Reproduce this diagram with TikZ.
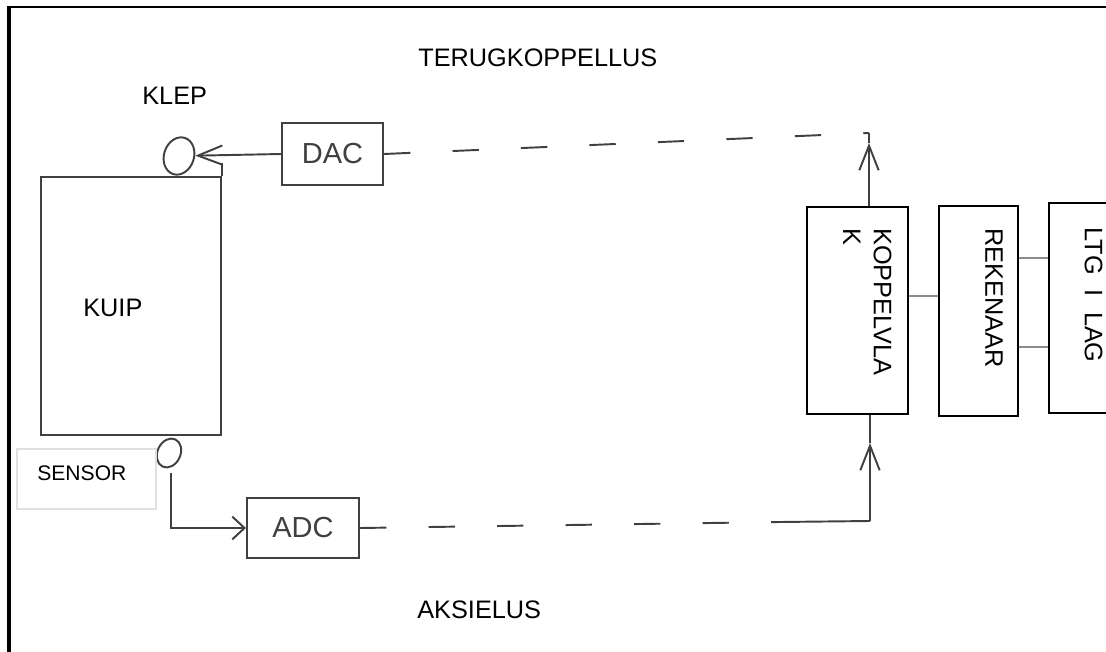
\documentclass[tikz,border=0pt]{standalone}
\usepackage{fontspec}
\setmainfont{Liberation Sans}
\usetikzlibrary{shapes.geometric, arrows.meta, positioning}
\tikzset{
    handbox/.style={rectangle, draw=black!75, line width=1.2pt, inner sep=0pt, font=\fontsize{16.5}{19}\selectfont, text=black!75},
    typedbox/.style={rectangle, draw=black, line width=0.6pt, inner sep=0pt},
    valve/.style={ellipse, draw=black!75, line width=1.1pt, inner sep=0pt},
    handline/.style={draw=black!75, line width=1.1pt},
    loopdash/.style={handline, dash pattern=on 15pt off 24pt},
    handarrow/.style={handline, -{Straight Barb[length=14pt, width=11pt]}},
    linkline/.style={draw=black!45, line width=0.8pt},
    lbl/.style={font=\fontsize{14.4}{17.6}\selectfont, inner sep=0pt, anchor=base west},
    vlbl/.style={font=\fontsize{14.4}{17.6}\selectfont, inner sep=0pt, rotate=-90, align=left, anchor=north west},
    sensorbox/.style={rectangle, draw=black!12, fill=white, line width=0.6pt, minimum width=2.78cm, minimum height=1.2cm},
}
\begin{document}
\begin{tikzpicture}[x=0.02cm, y=-0.02cm]
    \clip (0,0) rectangle (1106,652);
    \fill[white] (0,0) rectangle (1106,652);
    % frame
    \draw[line width=2.1pt] (9,652) -- (9,6);
    \draw[line width=1.3pt] (7,7) -- (1106,7);

    % tank with valve and sensor
    \node[handbox, minimum width=3.6cm, minimum height=5.16cm] (kuip) at (131,306) {};
    \draw[handline] (kuip.north east) -- ++(0,-13);
    \node[valve, minimum width=0.6cm, minimum height=0.76cm, rotate=-18] (klep) at (179,156) {};
    \node[valve, minimum width=0.46cm, minimum height=0.6cm, rotate=-25] (sensor) at (169,453) {};
    \node[sensorbox] (sensorlbl) at (86.5,479) {};
    \node[lbl, font=\fontsize{12}{14}\selectfont] (sensortxt) at (37,480) {SENSOR};

    % converters
    \node[handbox, minimum width=2.02cm, minimum height=1.24cm] (dac) at (332.5,154) {DAC};
    \node[handbox, minimum width=2.24cm, minimum height=1.2cm] (adc) at (303,528) {ADC};

    % interface, computer, line
    \node[typedbox, minimum width=2.02cm, minimum height=4.14cm] (kop) at (857.5,310.5) {};
    \node[typedbox, minimum width=1.58cm, minimum height=4.2cm] (rek) at (978.5,311) {};
    \node[typedbox, minimum width=1.4cm, minimum height=4.2cm] (ltg) at (1084,308) {};
    \node[vlbl] (koptxt) at (892,228) {KOPPELVLA\\K};
    \node[vlbl] (rektxt) at (1003,228) {REKENAAR};
    \node[vlbl] (ltgtxt) at (1103,227) {LTG\hspace{0.6em}I\hspace{0.6em}LAG};

    % labels
    \node[lbl] (terug) at (418,67) {TERUGKOPPELLUS};
    \node[lbl] (kleplbl) at (142,105) {KLEP};
    \node[lbl] (kuiplbl) at (83,316) {KUIP};
    \node[lbl] (aksie) at (417,618) {AKSIELUS};

    % feedback loop
    \coordinate (tcorner) at (869,133);
    \coordinate (ttip) at (869,143);
    \draw[handarrow] (kop.north -| ttip) -- (ttip);
    \draw[handline] (ttip) -- (tcorner);
    \draw[loopdash] (dac.east) -- (tcorner);
    \draw[handarrow] (dac.west) -- (klep);

    % action loop
    \coordinate (bturn) at (171,528);
    \draw[handline, -{Straight Barb[length=7pt, width=13pt]}] ([yshift=-3pt]sensor.south -| bturn) -- (bturn) -- (adc.west);
    \coordinate (bcorner) at (870,521);
    \coordinate (bdash) at (780,522);
    \coordinate (btip) at (870,443);
    \draw[loopdash] (adc.east) -- (bdash);
    \draw[handline] (bdash) -- (bcorner);
    \draw[handarrow] (bcorner) -- (btip);
    \draw[handline] (btip) -- (kop.south -| btip);

    % links
    \draw[linkline] (kop.east |- 0,296) -- (rek.west |- 0,296);
    \draw[linkline] (rek.east |- 0,258) -- (ltg.west |- 0,258);
    \draw[linkline] (rek.east |- 0,347) -- (ltg.west |- 0,347);
\end{tikzpicture}
\end{document}
